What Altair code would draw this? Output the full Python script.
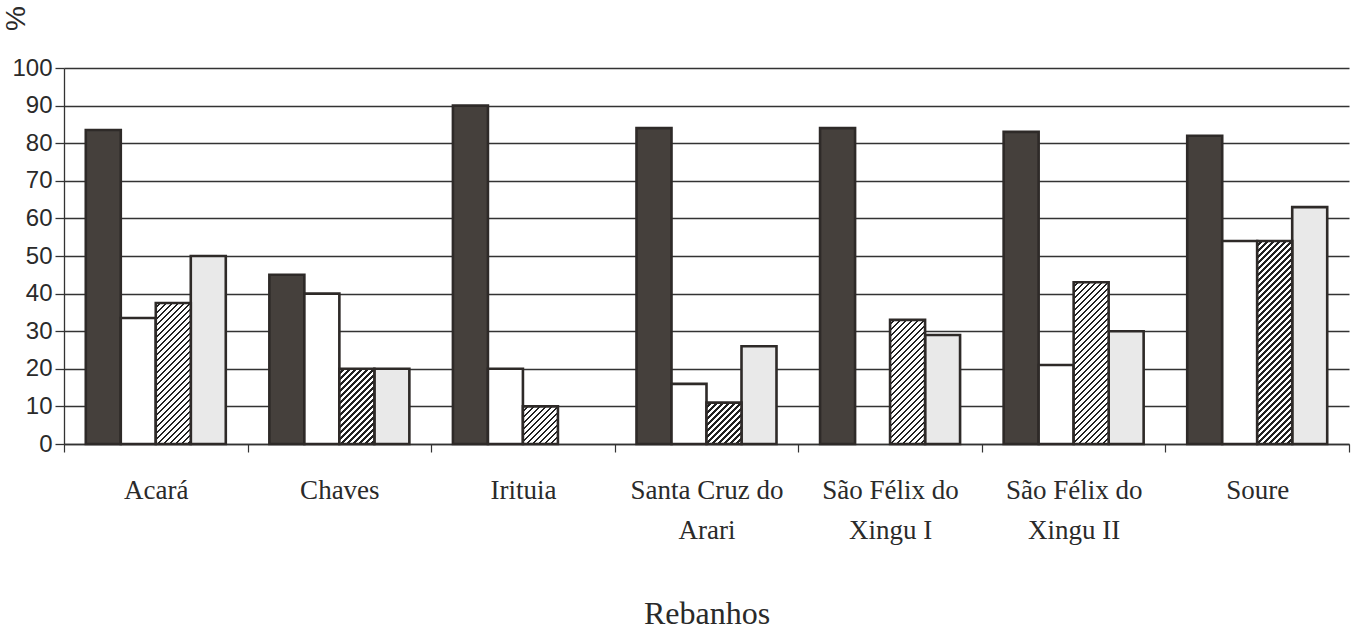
import math
import altair as alt
import pandas as pd

# ---------------- data ----------------
categories = ["Acará", "Chaves", "Irituia", "Santa Cruz do Arari",
              "São Félix do Xingu I", "São Félix do Xingu II", "Soure"]
label_lines = [["Acará"], ["Chaves"], ["Irituia"], ["Santa Cruz do", "Arari"],
               ["São Félix do", "Xingu I"], ["São Félix do", "Xingu II"], ["Soure"]]
series = ["Série 1", "Série 2", "Série 3", "Série 4"]
serie_1 = [83.5, 45, 90, 84, 84, 83, 82]     # dark bars
serie_2 = [33.5, 40, 20, 16, 0, 21, 54]      # white bars
serie_3 = [37.5, 20, 10, 11, 33, 43, 54]     # hatched bars
serie_4 = [50, 20, 0, 26, 29, 30, 63]        # light grey bars
y_ticks = [0, 10, 20, 30, 40, 50, 60, 70, 80, 90, 100]

# ---------------- layout / style ----------------
PLOT_W = 1285
PLOT_H = 376
STEP = PLOT_W / len(categories)
BAR_W = 35.0
OFF_PAD = (STEP / BAR_W - len(series)) / 2

DARK = "#45403c"
WHITE = "#ffffff"
LIGHT = "#e9e9e9"
EDGE = "#2e2a28"
INK = "#2a2a2a"

rows = []
for i, cat in enumerate(categories):
    for s, vals in zip(series, [serie_1, serie_2, serie_3, serie_4]):
        rows.append({"rebanho": cat, "serie": s, "valor": vals[i]})
df = pd.DataFrame(rows)
df = df[df["valor"] > 0]

# multi-line labels
expr = ""
for cat, lines in zip(categories, label_lines):
    if len(lines) > 1:
        arr = "[" + ", ".join("'" + l + "'" for l in lines) + "]"
        expr += "datum.value == '" + cat + "' ? " + arr + " : "
expr += "datum.label"

x_enc = alt.X(
    "rebanho:N",
    sort=categories,
    scale=alt.Scale(domain=categories, paddingInner=0, paddingOuter=0),
    axis=alt.Axis(
        title="Rebanhos", labelExpr=expr, labelAngle=0,
        labelFont="Liberation Serif", labelFontSize=27, labelColor=INK,
        labelLineHeight=40, labelPadding=25, labelLimit=400,
        tickSize=8, tickBand="extent", tickColor="#333", tickWidth=1.2,
        domainColor="#333", domainWidth=1.5, grid=False,
        titleFont="Liberation Serif", titleFontSize=32, titleFontWeight="normal",
        titleColor=INK, titlePadding=55,
    ),
)
xo_enc = alt.XOffset("serie:N", scale=alt.Scale(domain=series, paddingInner=0, paddingOuter=OFF_PAD))
y_enc = alt.Y(
    "valor:Q",
    scale=alt.Scale(domain=[0, 100], nice=False),
    axis=alt.Axis(
        values=y_ticks, title="%", titleAngle=-90, titleX=-48, titleY=-50,
        titleAlign="center", titleBaseline="middle",
        titleFont="Liberation Sans", titleFontSize=28, titleFontWeight="normal",
        titleColor=INK, labelFont="Liberation Sans", labelFontSize=24,
        labelColor=INK, labelPadding=3, tickSize=9, tickColor="#333",
        tickWidth=1.3, grid=True, gridColor="#333", gridWidth=1.3,
        domainColor="#333", domainWidth=1.3,
    ),
)

base = alt.Chart(df)

solid = base.transform_filter(
    alt.FieldOneOfPredicate(field="serie", oneOf=[series[0], series[1], series[3]])
).mark_bar(stroke=EDGE, strokeWidth=2.6).encode(
    x=x_enc, xOffset=xo_enc, y=y_enc,
    fill=alt.Fill("serie:N", scale=alt.Scale(domain=series, range=[DARK, WHITE, "#999999", LIGHT]),
                  legend=None),
)

layers = [solid]

# hatched bars: diagonal stripes built as a gradient fill for each bar
PERIOD = 6.0   # stripe period in (x + y) pixels
INKW = 2.2     # dark part of each period
for cat, v in zip(categories, serie_3):
    if v <= 0:
        continue
    w = BAR_W
    h = v / 100 * PLOT_H
    span = w + h
    s = span / (w * w + h * h)
    stops = []
    n = int(math.ceil(span / PERIOD))
    for k in range(n):
        a0 = k * PERIOD / span
        a1 = min((k * PERIOD + PERIOD - INKW) / span, 1)
        a2 = min((k + 1) * PERIOD / span, 1)
        stops += [alt.GradientStop(color="#ffffff", offset=a0),
                  alt.GradientStop(color="#ffffff", offset=a1),
                  alt.GradientStop(color="#222222", offset=a1),
                  alt.GradientStop(color="#222222", offset=a2)]
    grad = alt.LinearGradient(gradient="linear", stops=stops,
                              x1=0, y1=0, x2=w * s, y2=h * s)
    layer = base.transform_filter(
        (alt.datum.rebanho == cat) & (alt.datum.serie == series[2])
    ).mark_bar(fill=grad, stroke=EDGE, strokeWidth=2.6).encode(
        x=x_enc, xOffset=xo_enc, y=y_enc,
    )
    layers.append(layer)

chart = alt.layer(*layers).properties(
    width=PLOT_W, height=PLOT_H,
    padding={"left": 64, "top": 68, "right": 14, "bottom": 186},
    autosize=alt.AutoSizeParams(type="none"),
    background="white",
).configure_view(strokeOpacity=0)

chart.save("out.html", embed_options={"renderer": "svg", "actions": False})
